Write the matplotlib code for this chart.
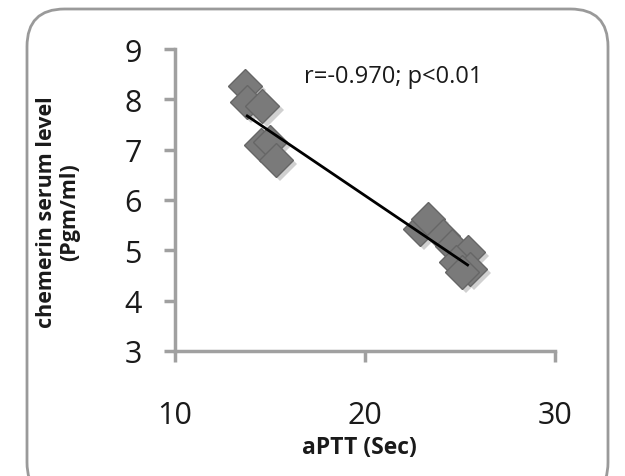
import matplotlib
matplotlib.use("Agg")
import matplotlib.pyplot as plt
import matplotlib.transforms as mtransforms
from matplotlib.patches import FancyBboxPatch

# Data
aptt = [13.7, 13.8, 14.6, 14.5, 15.0, 15.3, 22.9, 23.3, 24.1, 24.6, 25.4, 24.8, 25.5, 25.1]
chemerin = [8.27, 7.95, 7.87, 7.1, 7.15, 6.8, 5.43, 5.62, 5.29, 5.09, 4.97, 4.77, 4.63, 4.57]
trend_x = [13.8, 25.4]
trend_y = [7.67, 4.71]
x_ticks = [10, 20, 30]
y_ticks = [3, 4, 5, 6, 7, 8, 9]
annotation = "r=-0.970; p<0.01"
x_label = "aPTT (Sec)"
y_label = "chemerin serum level\n(Pgm/ml)"

plt.rcParams['font.family'] = ['Open Sans', 'DejaVu Sans']

fig = plt.figure(figsize=(6.25, 4.77), dpi=100)
fig.patch.set_facecolor('white')

# rounded frame
frame = FancyBboxPatch((27/625, -0.05), (608-27)/625, (477-10)/477 + 0.05,
                       boxstyle="round,pad=0,rounding_size=0.06",
                       transform=fig.transFigure, facecolor='none',
                       edgecolor='#9a9a9a', linewidth=2, clip_on=False,
                       mutation_aspect=625/477)
fig.patches.append(frame)

ax = fig.add_axes([175/625, (477-352)/477, (555-175)/625, (352-50)/477])
ax.set_xlim(10, 30)
ax.set_ylim(3, 9)

axis_color = '#a0a0a0'
for s in ['top', 'right']:
    ax.spines[s].set_visible(False)
for s in ['left', 'bottom']:
    ax.spines[s].set_color(axis_color)
    ax.spines[s].set_linewidth(2.5)

ax.set_xticks(x_ticks)
ax.set_yticks(y_ticks)
ax.tick_params(axis='both', colors=axis_color, width=2.5, length=8,
               labelcolor='#1a1a1a', labelsize=22)
ax.tick_params(axis='x', pad=27)
ax.tick_params(axis='y', pad=16)

# shadow
shadow_tr = mtransforms.offset_copy(ax.transData, fig=fig, x=3, y=-3, units='points')
ax.plot(aptt, chemerin, linestyle='none', marker='D', markersize=17,
        color='#d0d0d0', markeredgewidth=0, transform=shadow_tr, zorder=2)
ax.plot(aptt, chemerin, linestyle='none', marker='D', markersize=17,
        color='#7a7a7a', markeredgecolor='#666666', markeredgewidth=1, zorder=3)

ax.plot(trend_x, trend_y, color='black', linewidth=2, zorder=4)

ax.text(0.575, 0.91, annotation, transform=ax.transAxes, fontsize=17,
        ha='center', va='center', color='#1a1a1a')

ax.text(0.484, -0.318, x_label, transform=ax.transAxes, fontsize=16.5,
        fontweight='bold', ha='center', va='center', color='#1a1a1a', clip_on=False)
ax.text(-0.308, 0.464, y_label, transform=ax.transAxes, fontsize=15.5,
        fontweight='bold', ha='center', va='center', rotation=90,
        linespacing=1.15, color='#1a1a1a', clip_on=False)

fig.savefig('out.png', dpi=100)
